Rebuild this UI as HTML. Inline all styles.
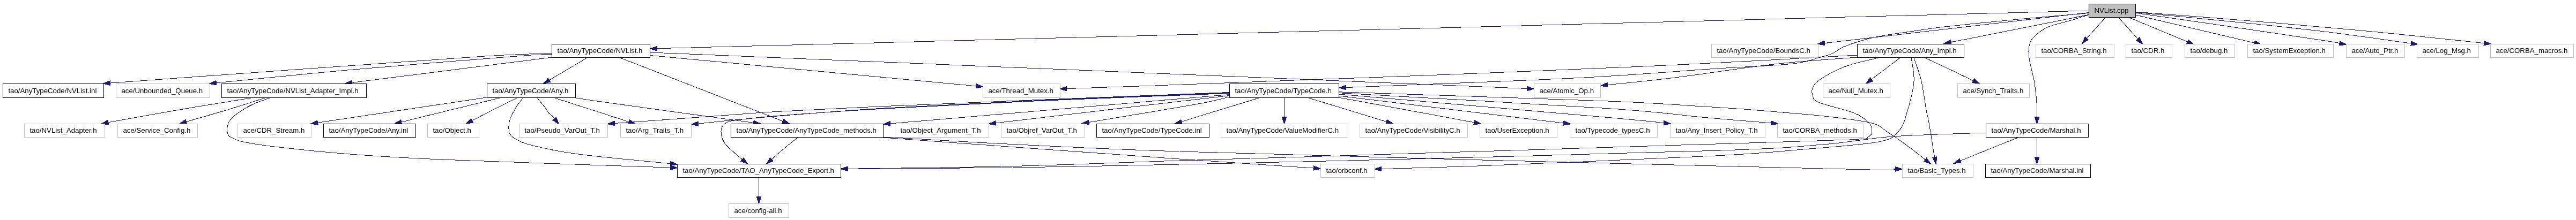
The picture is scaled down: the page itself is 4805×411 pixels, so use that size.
<!DOCTYPE html>
<html><head><meta charset="utf-8"><title>NVList.cpp include graph</title>
<style>html,body{margin:0;padding:0;background:#fff}svg{display:block;will-change:transform}text{font-family:"Liberation Sans",sans-serif;font-size:13.25px;fill:#000}</style></head><body>
<svg width="4805" height="411" viewBox="0 0 4805 411">
<rect width="4805" height="411" fill="#fff"/>
<g fill="none" stroke="#191970" stroke-width="1" shape-rendering="crispEdges">
<path d="M3896.0,20.0L1225.5,90.7"/>
<path d="M3896.0,23.5L3403.4,80.6"/>
<path d="M3896.0,24.5C3873.3,26.5 3804.8,32.2 3760.0,36.5C3715.2,40.8 3660.3,46.2 3627.0,50.0C3593.7,53.8 3582.0,56.2 3560.0,59.5C3538.0,62.8 3515.0,65.4 3495.0,70.0C3475.0,74.6 3452.8,82.0 3440.0,87.0C3427.2,92.0 3426.3,96.4 3418.0,100.0C3409.7,103.6 3402.8,105.3 3390.0,108.5C3377.2,111.7 3373.5,116.1 3341.0,119.4C3308.5,122.8 3259.3,124.3 3195.0,128.6C3130.7,132.9 3050.2,139.9 2955.0,145.0C2859.8,150.1 2698.1,155.9 2624.0,159.0C2549.9,162.1 2529.4,162.8 2510.5,163.5"/>
<path d="M3896.0,27.5C3890.8,29.2 3877.5,33.8 3865.0,37.5C3852.5,41.2 3832.2,45.4 3821.0,50.0C3809.8,54.6 3803.6,60.3 3798.0,65.0C3792.4,69.7 3789.8,73.0 3787.5,78.0C3785.2,83.0 3784.2,88.8 3784.0,95.0C3783.8,101.2 3785.0,108.8 3786.0,115.0C3787.0,121.2 3788.6,126.3 3790.0,132.5C3791.4,138.7 3793.2,144.1 3794.5,152.0C3795.8,159.9 3797.2,172.0 3798.0,180.0C3798.8,188.0 3799.2,193.6 3799.5,200.0C3799.8,206.4 3799.5,215.4 3799.5,218.5"/>
<path d="M3896.0,27.5C3861.2,34.5 3729.8,60.9 3687.0,69.4C3644.2,77.9 3647.2,77.1 3639.3,78.6"/>
<path d="M3927.0,33.0L3892.3,71.7"/>
<path d="M3952.0,33.0L3987.6,72.7"/>
<path d="M3972.0,33.0L4080.5,78.2"/>
<path d="M3984.0,28.0L4205.2,80.1"/>
<path d="M3984.0,24.3C4004.6,27.2 4049.6,33.5 4107.3,42.0C4165.0,50.5 4287.2,68.5 4330.0,75.0C4372.8,81.5 4358.4,79.9 4364.1,80.9"/>
<path d="M3984.0,23.2C4016.6,26.3 4119.7,35.9 4179.6,42.0C4239.5,48.1 4290.6,53.5 4343.6,60.0C4396.6,66.5 4471.8,77.6 4497.4,81.1"/>
<path d="M3984.0,22.2C4025.7,25.5 4158.8,35.7 4234.0,42.0C4309.2,48.3 4368.7,53.6 4435.0,60.0C4501.3,66.4 4598.9,77.1 4632.0,80.5C4665.1,83.9 4633.1,80.6 4633.4,80.6"/>
<path d="M1029.0,99.5C1008.2,100.4 975.5,100.5 904.0,105.0C832.5,109.5 716.4,118.2 600.0,126.5C483.6,134.8 271.2,150.3 205.5,155.1"/>
<path d="M1029.0,101.5C1018.2,102.1 1025.7,100.2 964.0,105.0C902.3,109.8 752.4,121.7 659.0,130.0C565.6,138.3 446.0,150.7 403.4,154.8"/>
<path d="M1030.0,107.0L656.4,154.4"/>
<path d="M1095.0,108.0L1024.8,149.6"/>
<path d="M1157.0,108.0L1460.4,226.5"/>
<path d="M1213.0,103.5L1820.6,160.8"/>
<path d="M1213.0,98.0L2848.5,165.5"/>
<path d="M468.0,183.0C445.8,186.7 379.0,197.4 334.6,205.0C290.2,212.6 223.9,224.8 201.8,228.8"/>
<path d="M494.0,183.0C482.4,186.7 449.0,197.6 424.6,205.0C400.2,212.4 360.3,223.7 347.5,227.5"/>
<path d="M503.0,183.0C498.5,184.7 484.3,189.3 476.0,193.0C467.7,196.7 460.3,200.3 453.0,205.0C445.7,209.7 436.8,216.0 432.0,221.0C427.2,226.0 425.7,230.2 424.5,235.0C423.3,239.8 423.8,246.3 425.0,250.0C426.2,253.7 427.2,254.5 432.0,257.0C436.8,259.5 440.0,262.1 454.0,265.0C468.0,267.9 482.8,270.7 516.0,274.5C549.2,278.3 607.5,284.4 653.0,288.0C698.5,291.6 743.7,294.1 789.0,296.4C834.3,298.7 876.5,300.0 925.0,301.8C973.5,303.6 1025.7,305.4 1080.0,307.3C1134.3,309.2 1222.1,312.1 1250.5,313.1"/>
<path d="M908.0,182.0L592.6,229.2"/>
<path d="M932.0,183.0L748.6,228.0"/>
<path d="M964.0,183.0C956.7,186.7 933.9,198.0 920.0,205.0C906.1,212.0 887.2,221.9 880.6,225.3"/>
<path d="M976.0,183.0C974.3,185.0 968.7,191.3 966.0,195.0C963.3,198.7 962.3,200.7 960.0,205.0C957.7,209.3 953.8,216.0 952.0,221.0C950.2,226.0 949.2,230.2 949.0,235.0C948.8,239.8 948.5,245.7 951.0,250.0C953.5,254.3 956.8,257.3 964.0,261.0C971.2,264.7 974.7,267.5 994.0,272.0C1013.3,276.5 1037.2,282.6 1080.0,288.2C1122.8,293.8 1222.1,302.8 1250.6,305.7"/>
<path d="M1002.0,183.0C1003.7,185.0 1009.0,191.3 1012.0,195.0C1015.0,198.7 1018.2,202.4 1020.0,205.0C1021.8,207.6 1021.2,208.4 1023.0,210.5C1024.8,212.6 1029.1,215.6 1031.0,217.5C1032.9,219.4 1033.7,221.0 1034.3,221.7"/>
<path d="M1035.0,183.0C1046.4,186.7 1080.3,197.6 1103.3,205.0C1126.3,212.4 1161.5,223.9 1173.1,227.6"/>
<path d="M1073.0,180.0C1077.5,181.2 1044.6,178.8 1100.0,187.0C1155.4,195.2 1354.7,222.2 1405.6,229.3"/>
<path d="M2293.0,172.5C2235.8,174.8 2057.2,181.7 1950.0,186.0C1842.8,190.3 1733.3,194.8 1650.0,198.5C1566.7,202.2 1498.5,205.7 1450.0,208.4C1401.5,211.2 1409.6,211.3 1359.0,215.0C1308.4,218.7 1181.9,227.9 1146.5,230.5"/>
<path d="M2293.0,173.5C2235.8,175.8 2057.2,182.2 1950.0,187.0C1842.8,191.8 1733.3,197.0 1650.0,202.0C1566.7,207.0 1498.5,213.1 1450.0,217.0C1401.5,220.9 1383.6,222.8 1359.0,225.2C1334.4,227.6 1311.9,230.2 1302.4,231.2"/>
<path d="M2293.0,174.5C2235.8,176.8 2057.2,183.2 1950.0,188.0C1842.8,192.8 1733.3,198.3 1650.0,203.0C1566.7,207.7 1496.2,212.8 1450.0,216.4C1403.8,220.0 1389.3,222.1 1373.0,224.5C1356.7,226.9 1356.7,227.6 1352.0,231.0C1347.3,234.4 1345.2,238.8 1345.0,244.7C1344.8,250.6 1346.8,259.6 1351.0,266.4C1355.2,273.2 1364.4,280.3 1370.0,285.5C1375.6,290.7 1382.1,295.8 1384.5,297.9"/>
<path d="M2293.0,176.6C2257.5,179.7 2185.4,185.9 2080.0,195.0C1974.6,204.1 1730.4,224.9 1660.5,230.9"/>
<path d="M2293.0,178.6C2269.5,181.3 2224.6,186.4 2152.0,195.0C2079.4,203.6 1906.5,224.1 1857.4,229.9"/>
<path d="M2293.0,181.0C2282.5,183.3 2273.6,187.1 2230.0,195.0C2186.4,202.9 2064.4,222.9 2031.3,228.4"/>
<path d="M2348.0,183.0L2203.9,227.3"/>
<path d="M2395.5,183.0L2395.5,218.5"/>
<path d="M2441.0,183.0L2586.0,227.3"/>
<path d="M2497.0,182.0L2749.7,228.7"/>
<path d="M2497.0,179.0L2916.6,230.0"/>
<path d="M2497.7,176.0C2581.4,183.2 2899.0,210.5 3000.0,219.5C3101.0,228.5 3086.3,228.1 3103.6,229.8"/>
<path d="M2497.7,173.7C2581.4,178.5 2886.3,195.1 3000.0,202.7C3113.7,210.3 3129.4,215.0 3180.0,219.5C3230.6,224.0 3283.0,228.2 3303.5,229.9"/>
<path d="M2497.7,171.8C2581.4,174.7 2886.3,184.4 3000.0,189.0C3113.7,193.6 3134.7,196.4 3180.0,199.2C3225.3,201.9 3233.8,202.4 3272.0,205.5C3310.2,208.6 3372.5,213.6 3409.0,217.7C3445.5,221.8 3472.5,225.3 3491.0,230.0C3509.5,234.7 3508.5,238.7 3520.0,246.0C3531.5,253.3 3548.1,265.3 3560.0,274.0C3571.9,282.7 3586.0,294.3 3591.1,298.3"/>
<path d="M1488.0,257.0C1483.8,260.3 1471.1,270.2 1463.0,277.0C1454.9,283.8 1443.3,294.3 1439.4,297.7"/>
<path d="M1647.0,257.0C1739.2,263.7 2066.1,287.5 2200.0,297.0C2333.9,306.5 2408.8,311.3 2450.5,314.1"/>
<path d="M1647.0,256.0C1739.2,260.5 1907.8,273.2 2200.0,283.0C2492.2,292.8 3177.4,309.5 3400.0,315.0C3622.6,320.5 3512.9,315.8 3535.5,315.9"/>
<path d="M3464.0,103.0C3414.0,105.7 3265.5,114.4 3164.0,119.4C3062.5,124.4 2935.7,129.6 2855.0,133.0C2774.3,136.4 2728.7,138.1 2680.0,140.0C2631.3,141.9 2602.2,143.2 2563.0,144.7C2523.8,146.2 2513.2,146.2 2445.0,148.8C2376.8,151.4 2229.5,157.2 2153.6,160.0C2077.7,162.8 2016.8,164.6 1989.5,165.6"/>
<path d="M3464.0,107.0C3439.0,109.1 3370.7,113.1 3314.0,119.4C3257.3,125.7 3176.6,138.5 3124.0,145.0C3071.4,151.5 3019.4,156.4 2998.4,158.6"/>
<path d="M3544.0,108.0L3490.9,148.4"/>
<path d="M3591.0,108.0L3680.7,150.6"/>
<path d="M3504.0,108.0C3498.3,109.3 3481.7,112.8 3470.0,116.0C3458.3,119.2 3446.8,121.6 3434.0,127.3C3421.2,133.0 3401.8,143.7 3393.0,150.0C3384.2,156.3 3383.0,160.5 3381.0,165.0C3379.0,169.5 3379.2,172.7 3381.0,177.0C3382.8,181.3 3379.2,185.3 3392.0,191.0C3404.8,196.7 3442.5,204.7 3458.0,211.0C3473.5,217.3 3479.3,223.3 3485.0,228.6C3490.7,233.9 3492.0,238.5 3492.0,243.0C3492.0,247.5 3492.0,252.4 3485.0,255.4C3478.0,258.4 3497.5,258.7 3450.0,261.0C3402.5,263.3 3358.3,264.0 3200.0,269.0C3041.7,274.0 2666.7,285.8 2500.0,291.0C2333.3,296.2 2301.7,296.8 2200.0,300.0C2098.3,303.2 1993.2,307.9 1890.0,310.5C1786.8,313.1 1632.5,314.5 1581.0,315.3"/>
<path d="M3565.0,108.0C3565.8,115.3 3571.2,135.5 3570.0,152.0C3568.8,168.5 3562.7,191.6 3558.0,207.0C3553.3,222.4 3551.0,234.8 3542.0,244.5C3533.0,254.2 3533.0,259.3 3504.0,265.0C3475.0,270.7 3418.7,274.3 3368.0,278.6C3317.3,282.9 3299.3,285.9 3200.0,291.0C3100.7,296.1 2875.9,305.3 2772.0,309.4C2668.1,313.5 2609.1,314.6 2576.5,315.6"/>
<path d="M3570.0,108.0C3572.3,115.3 3580.2,135.7 3584.0,152.0C3587.8,168.3 3590.7,192.8 3593.0,205.6C3595.3,218.4 3595.8,216.4 3598.0,228.6C3600.2,240.8 3604.2,267.7 3606.0,278.6C3607.8,289.5 3608.3,291.2 3608.8,293.7"/>
<path d="M3704.0,248.0C3675.2,249.2 3581.7,251.3 3531.0,255.0C3480.3,258.7 3455.2,265.6 3400.0,270.0C3344.8,274.4 3350.0,276.2 3200.0,281.3C3050.0,286.4 2666.7,296.1 2500.0,300.4C2333.3,304.7 2301.7,304.9 2200.0,307.0C2098.3,309.1 1993.2,311.6 1890.0,313.0C1786.8,314.4 1632.5,315.0 1581.0,315.4"/>
<path d="M3764.0,257.0L3656.6,300.3"/>
<path d="M3799.5,257.0L3799.5,293.5"/>
<path d="M1415.5,332.0L1415.5,367.5"/>
</g>
<g fill="#191970" stroke="#191970" stroke-width="1" shape-rendering="crispEdges">
<polygon points="1212.2,91.0 1225.4,86.5 1225.6,94.9"/>
<polygon points="3390.2,82.1 3402.9,76.4 3403.9,84.7"/>
<polygon points="2497.2,164.0 2510.3,159.3 2510.7,167.7"/>
<polygon points="3799.5,231.8 3795.3,218.5 3803.7,218.5"/>
<polygon points="3626.2,81.2 3638.5,74.5 3640.1,82.8"/>
<polygon points="3883.5,81.6 3889.2,68.9 3895.5,74.5"/>
<polygon points="3996.5,82.6 3984.5,75.5 3990.8,69.9"/>
<polygon points="4092.7,83.3 4078.8,82.1 4082.1,74.3"/>
<polygon points="4218.2,83.2 4204.3,84.2 4206.2,76.0"/>
<polygon points="4377.2,83.1 4363.4,85.0 4364.8,76.7"/>
<polygon points="4510.6,83.1 4496.8,85.2 4498.1,76.9"/>
<polygon points="4646.6,82.1 4632.9,84.8 4633.8,76.5"/>
<polygon points="192.2,156.1 205.2,150.9 205.8,159.3"/>
<polygon points="390.2,156.1 403.0,150.6 403.8,159.0"/>
<polygon points="643.2,156.1 655.9,150.3 656.9,158.6"/>
<polygon points="1013.3,156.4 1022.6,146.0 1026.9,153.2"/>
<polygon points="1472.7,231.3 1458.8,230.4 1461.9,222.5"/>
<polygon points="1833.8,162.1 1820.2,165.0 1820.9,156.6"/>
<polygon points="2861.8,166.0 2848.3,169.7 2848.7,161.3"/>
<polygon points="188.7,231.1 201.1,224.7 202.5,232.9"/>
<polygon points="334.7,231.2 346.3,223.5 348.7,231.5"/>
<polygon points="1263.8,313.5 1250.4,317.3 1250.6,308.9"/>
<polygon points="579.4,231.1 591.9,225.0 593.2,233.3"/>
<polygon points="735.7,231.2 747.6,223.9 749.6,232.1"/>
<polygon points="868.8,231.4 878.7,221.5 882.5,229.0"/>
<polygon points="1263.8,307.1 1250.1,309.9 1251.0,301.5"/>
<polygon points="1042.5,232.1 1031.0,224.3 1037.6,219.1"/>
<polygon points="1185.8,231.7 1171.8,231.6 1174.4,223.6"/>
<polygon points="1418.8,231.1 1405.0,233.4 1406.2,225.1"/>
<polygon points="1133.2,231.5 1146.2,226.3 1146.8,234.7"/>
<polygon points="1289.2,232.6 1302.0,227.0 1302.9,235.4"/>
<polygon points="1394.6,306.5 1381.8,301.1 1387.2,294.7"/>
<polygon points="1647.2,232.1 1660.1,226.7 1660.8,235.1"/>
<polygon points="1844.2,231.5 1856.9,225.8 1857.9,234.1"/>
<polygon points="2018.2,230.6 2030.6,224.3 2032.0,232.6"/>
<polygon points="2191.2,231.2 2202.7,223.3 2205.2,231.3"/>
<polygon points="2395.5,231.8 2391.3,218.5 2399.7,218.5"/>
<polygon points="2598.8,231.2 2584.8,231.4 2587.3,223.3"/>
<polygon points="2762.8,231.1 2748.9,232.9 2750.5,224.6"/>
<polygon points="2929.8,231.6 2916.1,234.2 2917.1,225.8"/>
<polygon points="3116.8,231.1 3103.1,233.9 3104.0,225.6"/>
<polygon points="3316.8,231.1 3303.2,234.1 3303.9,225.8"/>
<polygon points="3601.6,306.5 3588.6,301.6 3593.7,295.0"/>
<polygon points="1429.4,306.5 1436.6,294.6 1442.2,300.9"/>
<polygon points="2463.8,315.1 2450.2,318.3 2450.8,310.0"/>
<polygon points="3548.8,316.0 3535.5,320.1 3535.5,311.7"/>
<polygon points="1976.2,166.0 1989.4,161.4 1989.6,169.8"/>
<polygon points="2985.2,160.1 2998.0,154.5 2998.9,162.8"/>
<polygon points="3480.4,156.5 3488.4,145.1 3493.5,151.8"/>
<polygon points="3692.7,156.3 3678.9,154.4 3682.5,146.8"/>
<polygon points="1567.7,315.5 1580.9,311.1 1581.1,319.5"/>
<polygon points="2563.2,316.0 2576.4,311.4 2576.6,319.8"/>
<polygon points="3611.1,306.8 3604.6,294.5 3612.9,292.9"/>
<polygon points="1567.7,315.5 1581.0,311.2 1581.0,319.6"/>
<polygon points="3644.3,305.3 3655.0,296.4 3658.2,304.2"/>
<polygon points="3799.5,306.8 3795.3,293.5 3803.7,293.5"/>
<polygon points="1415.5,380.8 1411.3,367.5 1419.7,367.5"/>
</g>
<rect x="3896.5" y="7.5" width="87" height="25" fill="#bfbfbf" stroke="#000" shape-rendering="crispEdges"/>
<text x="3906.4" y="23.9">NVList.cpp</text>
<rect x="1029.5" y="82.5" width="183" height="25" fill="#fff" stroke="#000" shape-rendering="crispEdges"/>
<text x="1039.4" y="98.9">tao/AnyTypeCode/NVList.h</text>
<rect x="3192.5" y="82.5" width="199" height="25" fill="#fff" stroke="#bfbfbf" shape-rendering="crispEdges"/>
<text x="3202.4" y="98.9">tao/AnyTypeCode/BoundsC.h</text>
<rect x="3464.5" y="82.5" width="199" height="25" fill="#fff" stroke="#000" shape-rendering="crispEdges"/>
<text x="3474.4" y="98.9">tao/AnyTypeCode/Any_Impl.h</text>
<rect x="3797.5" y="82.5" width="146" height="25" fill="#fff" stroke="#bfbfbf" shape-rendering="crispEdges"/>
<text x="3807.4" y="98.9">tao/CORBA_String.h</text>
<rect x="3965.5" y="82.5" width="86" height="25" fill="#fff" stroke="#bfbfbf" shape-rendering="crispEdges"/>
<text x="3975.4" y="98.9">tao/CDR.h</text>
<rect x="4075.5" y="82.5" width="93" height="25" fill="#fff" stroke="#bfbfbf" shape-rendering="crispEdges"/>
<text x="4085.4" y="98.9">tao/debug.h</text>
<rect x="4192.5" y="82.5" width="160" height="25" fill="#fff" stroke="#bfbfbf" shape-rendering="crispEdges"/>
<text x="4202.4" y="98.9">tao/SystemException.h</text>
<rect x="4376.5" y="82.5" width="109" height="25" fill="#fff" stroke="#bfbfbf" shape-rendering="crispEdges"/>
<text x="4386.4" y="98.9">ace/Auto_Ptr.h</text>
<rect x="4508.5" y="82.5" width="115" height="25" fill="#fff" stroke="#bfbfbf" shape-rendering="crispEdges"/>
<text x="4518.4" y="98.9">ace/Log_Msg.h</text>
<rect x="4645.5" y="82.5" width="155" height="25" fill="#fff" stroke="#bfbfbf" shape-rendering="crispEdges"/>
<text x="4655.4" y="98.9">ace/CORBA_macros.h</text>
<rect x="5.5" y="156.5" width="188" height="26" fill="#fff" stroke="#000" shape-rendering="crispEdges"/>
<text x="15.4" y="173.9">tao/AnyTypeCode/NVList.inl</text>
<rect x="216.5" y="156.5" width="175" height="26" fill="#fff" stroke="#bfbfbf" shape-rendering="crispEdges"/>
<text x="226.4" y="173.9">ace/Unbounded_Queue.h</text>
<rect x="413.5" y="156.5" width="270" height="26" fill="#fff" stroke="#000" shape-rendering="crispEdges"/>
<text x="423.4" y="173.9">tao/AnyTypeCode/NVList_Adapter_Impl.h</text>
<rect x="908.5" y="156.5" width="165" height="26" fill="#fff" stroke="#000" shape-rendering="crispEdges"/>
<text x="918.4" y="173.9">tao/AnyTypeCode/Any.h</text>
<rect x="1833.5" y="156.5" width="144" height="26" fill="#fff" stroke="#bfbfbf" shape-rendering="crispEdges"/>
<text x="1843.4" y="173.9">ace/Thread_Mutex.h</text>
<rect x="2293.5" y="156.5" width="204" height="26" fill="#fff" stroke="#000" shape-rendering="crispEdges"/>
<text x="2303.4" y="173.9">tao/AnyTypeCode/TypeCode.h</text>
<rect x="2861.5" y="156.5" width="124" height="26" fill="#fff" stroke="#bfbfbf" shape-rendering="crispEdges"/>
<text x="2871.4" y="173.9">ace/Atomic_Op.h</text>
<rect x="3400.5" y="156.5" width="125" height="26" fill="#fff" stroke="#bfbfbf" shape-rendering="crispEdges"/>
<text x="3410.4" y="173.9">ace/Null_Mutex.h</text>
<rect x="3651.5" y="156.5" width="134" height="26" fill="#fff" stroke="#bfbfbf" shape-rendering="crispEdges"/>
<text x="3661.4" y="173.9">ace/Synch_Traits.h</text>
<rect x="45.5" y="231.5" width="150" height="25" fill="#fff" stroke="#bfbfbf" shape-rendering="crispEdges"/>
<text x="55.4" y="247.9">tao/NVList_Adapter.h</text>
<rect x="219.5" y="231.5" width="149" height="25" fill="#fff" stroke="#bfbfbf" shape-rendering="crispEdges"/>
<text x="229.4" y="247.9">ace/Service_Config.h</text>
<rect x="443.5" y="231.5" width="137" height="25" fill="#fff" stroke="#bfbfbf" shape-rendering="crispEdges"/>
<text x="453.4" y="247.9">ace/CDR_Stream.h</text>
<rect x="603.5" y="231.5" width="172" height="25" fill="#fff" stroke="#000" shape-rendering="crispEdges"/>
<text x="613.4" y="247.9">tao/AnyTypeCode/Any.inl</text>
<rect x="797.5" y="231.5" width="96" height="25" fill="#fff" stroke="#bfbfbf" shape-rendering="crispEdges"/>
<text x="807.4" y="247.9">tao/Object.h</text>
<rect x="968.5" y="231.5" width="165" height="25" fill="#fff" stroke="#bfbfbf" shape-rendering="crispEdges"/>
<text x="978.4" y="247.9">tao/Pseudo_VarOut_T.h</text>
<rect x="1157.5" y="231.5" width="132" height="25" fill="#fff" stroke="#bfbfbf" shape-rendering="crispEdges"/>
<text x="1167.4" y="247.9">tao/Arg_Traits_T.h</text>
<rect x="1363.5" y="231.5" width="284" height="25" fill="#fff" stroke="#000" shape-rendering="crispEdges"/>
<text x="1373.4" y="247.9">tao/AnyTypeCode/AnyTypeCode_methods.h</text>
<rect x="1669.5" y="231.5" width="175" height="25" fill="#fff" stroke="#bfbfbf" shape-rendering="crispEdges"/>
<text x="1679.4" y="247.9">tao/Object_Argument_T.h</text>
<rect x="1867.5" y="231.5" width="156" height="25" fill="#fff" stroke="#bfbfbf" shape-rendering="crispEdges"/>
<text x="1877.4" y="247.9">tao/Objref_VarOut_T.h</text>
<rect x="2045.5" y="231.5" width="210" height="25" fill="#fff" stroke="#000" shape-rendering="crispEdges"/>
<text x="2055.4" y="247.9">tao/AnyTypeCode/TypeCode.inl</text>
<rect x="2277.5" y="231.5" width="235" height="25" fill="#fff" stroke="#bfbfbf" shape-rendering="crispEdges"/>
<text x="2287.4" y="247.9">tao/AnyTypeCode/ValueModifierC.h</text>
<rect x="2536.5" y="231.5" width="201" height="25" fill="#fff" stroke="#bfbfbf" shape-rendering="crispEdges"/>
<text x="2546.4" y="247.9">tao/AnyTypeCode/VisibilityC.h</text>
<rect x="2760.5" y="231.5" width="144" height="25" fill="#fff" stroke="#bfbfbf" shape-rendering="crispEdges"/>
<text x="2770.4" y="247.9">tao/UserException.h</text>
<rect x="2928.5" y="231.5" width="163" height="25" fill="#fff" stroke="#bfbfbf" shape-rendering="crispEdges"/>
<text x="2938.4" y="247.9">tao/Typecode_typesC.h</text>
<rect x="3115.5" y="231.5" width="177" height="25" fill="#fff" stroke="#bfbfbf" shape-rendering="crispEdges"/>
<text x="3125.4" y="247.9">tao/Any_Insert_Policy_T.h</text>
<rect x="3315.5" y="231.5" width="161" height="25" fill="#fff" stroke="#bfbfbf" shape-rendering="crispEdges"/>
<text x="3325.4" y="247.9">tao/CORBA_methods.h</text>
<rect x="3704.5" y="231.5" width="191" height="25" fill="#fff" stroke="#000" shape-rendering="crispEdges"/>
<text x="3714.4" y="247.9">tao/AnyTypeCode/Marshal.h</text>
<rect x="1263.5" y="306.5" width="305" height="25" fill="#fff" stroke="#000" shape-rendering="crispEdges"/>
<text x="1273.4" y="322.9">tao/AnyTypeCode/TAO_AnyTypeCode_Export.h</text>
<rect x="2463.5" y="306.5" width="101" height="25" fill="#fff" stroke="#bfbfbf" shape-rendering="crispEdges"/>
<text x="2473.4" y="322.9">tao/orbconf.h</text>
<rect x="3548.5" y="306.5" width="132" height="25" fill="#fff" stroke="#bfbfbf" shape-rendering="crispEdges"/>
<text x="3558.4" y="322.9">tao/Basic_Types.h</text>
<rect x="3703.5" y="306.5" width="196" height="25" fill="#fff" stroke="#000" shape-rendering="crispEdges"/>
<text x="3713.4" y="322.9">tao/AnyTypeCode/Marshal.inl</text>
<rect x="1359.5" y="380.5" width="112" height="26" fill="#fff" stroke="#bfbfbf" shape-rendering="crispEdges"/>
<text x="1369.4" y="397.9">ace/config-all.h</text>
</svg></body></html>
